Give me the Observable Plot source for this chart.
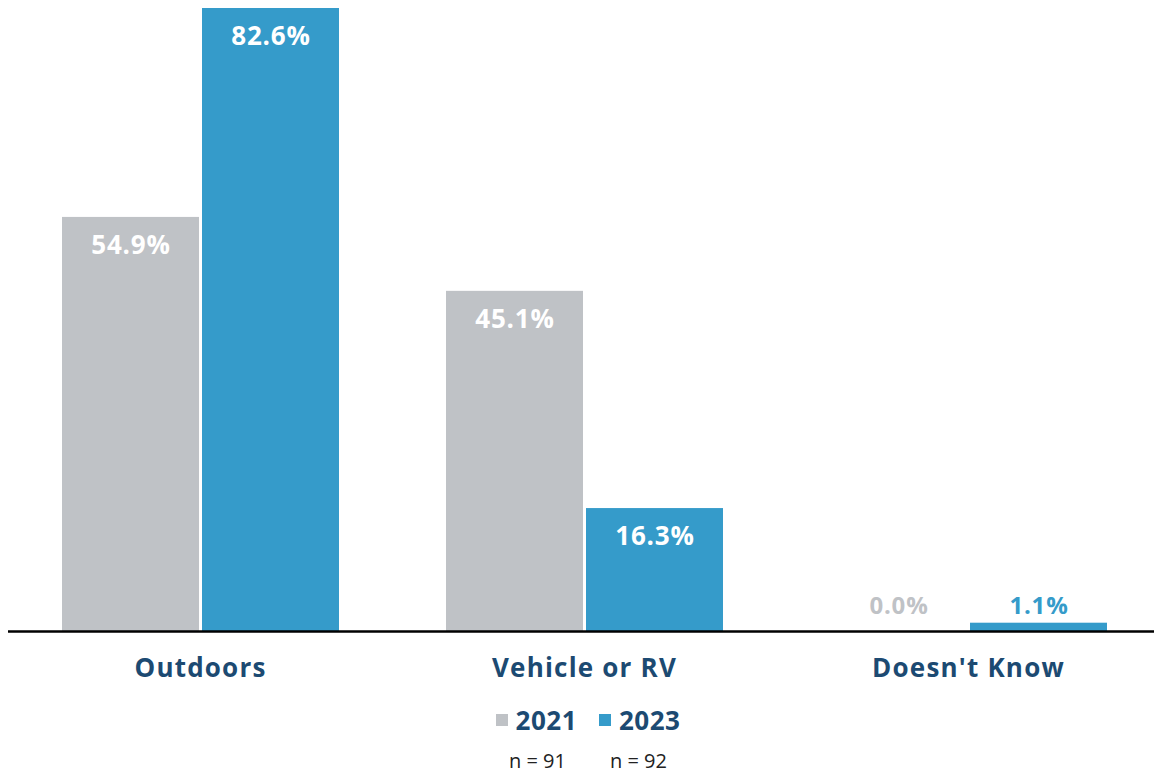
<!DOCTYPE html>
<html>
<head>
<meta charset="utf-8">
<script src="https://cdn.jsdelivr.net/npm/d3@7"></script>
<script src="https://cdn.jsdelivr.net/npm/@observablehq/plot@0.6"></script>
<style>
  body { margin: 0; background: #fff; font-family: "Open Sans", sans-serif; overflow: hidden; }
  #chart svg { display: block; }
  #chart svg text { letter-spacing: 0.8px; }
  #chart svg g[aria-label="fx-axis tick label"] text { letter-spacing: 1.2px; }
  .legend { display: flex; justify-content: center; align-items: center; gap: 22px; margin-left: 22px; margin-top: 2px; height: 36px; }
  .item { display: flex; align-items: center; gap: 8px; font-weight: 700; font-size: 26px; line-height: 36px; color: #1C4A72; letter-spacing: 0.5px; }
  .sw { width: 12px; height: 12px; display: inline-block; }
  .ns { display: flex; justify-content: center; gap: 44px; margin-left: 22px; margin-top: 13px; font-size: 20px; line-height: 20px; color: #222; }
</style>
</head>
<body>
<div id="chart"></div>
<div class="legend" id="legend"></div>
<div class="ns" id="ns"></div>
<script>
const categories = ["Outdoors", "Vehicle or RV", "Doesn't Know"];
const years = ["2021", "2023"];
const values2021 = [54.9, 45.1, 0.0];
const values2023 = [82.6, 16.3, 1.1];
const sampleSizes = ["n = 91", "n = 92"];
const colors = ["#BFC2C6", "#359BCA"];

const data = [];
categories.forEach((c, i) => {
  data.push({category: c, year: years[0], value: values2021[i]});
  data.push({category: c, year: years[1], value: values2023[i]});
});
const big = data.filter(d => d.value >= 5);
const small2021 = data.filter(d => d.value < 5 && d.year === years[0]);
const small2023 = data.filter(d => d.value < 5 && d.year === years[1]);
const fmt = d => d.value.toFixed(1) + "%";

const chart = Plot.plot({
  width: 1154,
  height: 700,
  marginLeft: 0,
  marginRight: 0,
  marginTop: 8,
  marginBottom: 69,
  style: {fontFamily: "Open Sans, sans-serif"},
  fx: {domain: categories, range: [7.5, 1159.5], padding: 0, label: null},
  x: {domain: years, range: [53.5, 330.5], paddingInner: 3 / 140, paddingOuter: 0, axis: null},
  y: {domain: [0, 82.6], range: [631, 8], axis: null},
  color: {domain: years, range: colors},
  marks: [
    Plot.barY(data, {fx: "category", x: "year", y: "value", fill: "year"}),
    Plot.ruleY([0], {stroke: "#000", strokeWidth: 2.5}),
    Plot.text(big, {fx: "category", x: "year", y: "value", text: fmt,
      fill: "#fff", fontSize: 26, fontWeight: 700, dy: 28}),
    Plot.text(small2021, {fx: "category", x: "year", y: "value", text: fmt,
      fill: "year", fontSize: 24, fontWeight: 700, dy: -25}),
    Plot.text(small2023, {fx: "category", x: "year", y: "value", text: fmt,
      fill: "year", fontSize: 24, fontWeight: 700, dy: -17}),
    Plot.axisFx({anchor: "bottom", tickSize: 0, tickPadding: 27, fontSize: 26, fontWeight: 700,
      color: "#1C4A72", label: null})
  ]
});
document.getElementById("chart").appendChild(chart);

const legend = document.getElementById("legend");
years.forEach((y, i) => {
  const it = document.createElement("div");
  it.className = "item";
  const sw = document.createElement("span");
  sw.className = "sw";
  sw.style.background = colors[i];
  it.appendChild(sw);
  it.appendChild(document.createTextNode(y));
  legend.appendChild(it);
});
const ns = document.getElementById("ns");
sampleSizes.forEach(s => {
  const d = document.createElement("div");
  d.textContent = s;
  ns.appendChild(d);
});
</script>
</body>
</html>
